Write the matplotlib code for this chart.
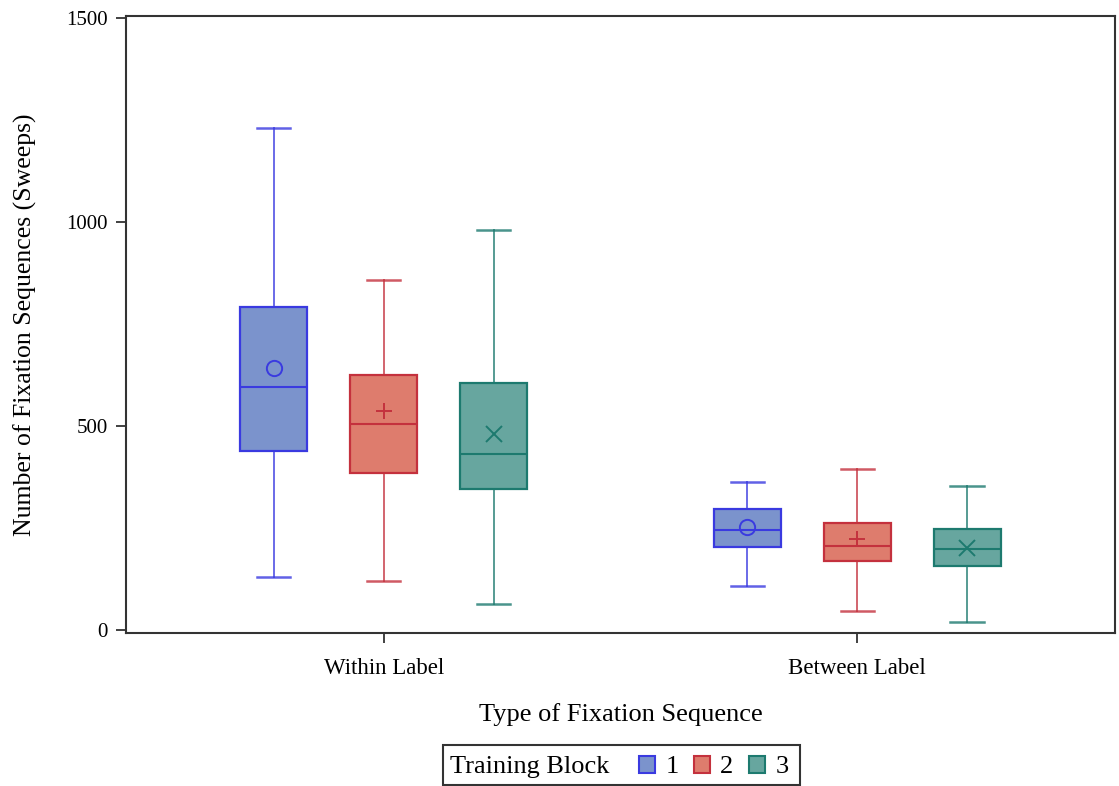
import matplotlib
matplotlib.use("Agg")
import matplotlib.pyplot as plt
from matplotlib.patches import Patch, Rectangle

plt.rcParams['font.family'] = ['Liberation Serif', 'DejaVu Serif']

groups = ["Within Label", "Between Label"]
blocks = ["1", "2", "3"]

# per block: one value per group (Within, Between)
whislo = {"1": [130, 108], "2": [120, 47], "3": [64, 20]}
q1 = {"1": [439, 203], "2": [385, 169], "3": [346, 157]}
med = {"1": [596, 245], "2": [505, 206], "3": [431, 198]}
q3 = {"1": [792, 297], "2": [625, 262], "3": [605, 248]}
whishi = {"1": [1230, 363], "2": [858, 395], "3": [980, 353]}
mean = {"1": [642, 252], "2": [537, 223], "3": [480, 201]}

fills = {"1": "#7b93cc", "2": "#de7c6d", "3": "#67a69f"}
edges = {"1": "#3a3ae0", "2": "#c4313d", "3": "#1d7a6f"}
markers = {"1": "o", "2": "+", "3": "x"}

fig = plt.figure(figsize=(11.19, 7.86), dpi=100)
ax = fig.add_axes([0.1126, 0.1947, 0.8838, 0.785])

offs = {"1": -0.232, "2": 0.0, "3": 0.232}
for b in blocks:
    stats = []
    for i in range(len(groups)):
        stats.append(dict(whislo=whislo[b][i], q1=q1[b][i], med=med[b][i],
                          q3=q3[b][i], whishi=whishi[b][i], mean=mean[b][i],
                          fliers=[]))
    pos = [i + offs[b] for i in range(len(groups))]
    ec = edges[b]
    ax.bxp(stats, positions=pos, widths=0.141, patch_artist=True,
           showmeans=True, manage_ticks=False,
           boxprops=dict(facecolor=fills[b], edgecolor=ec, linewidth=1.6),
           medianprops=dict(color=ec, linewidth=1.5),
           whiskerprops=dict(color=ec, linewidth=1.4, alpha=0.75),
           capprops=dict(color=ec, linewidth=1.8, alpha=0.8),
           meanprops=dict(marker=markers[b], markeredgecolor=ec,
                          markerfacecolor='none', markersize=11,
                          markeredgewidth=1.4))

ax.set_xlim(-0.544, 1.544)
ax.set_ylim(-8, 1505)
ax.set_xticks(range(len(groups)))
ax.set_xticklabels(groups)
ax.set_yticks([0, 500, 1000, 1500])
ax.tick_params(axis='both', colors='#333333', length=7,
               width=1.3, labelcolor='black', pad=6)
ax.tick_params(axis='y', labelsize=15)
ax.tick_params(axis='x', labelsize=16.5, pad=11)
for s in ax.spines.values():
    s.set_color('#333333')
    s.set_linewidth(1.5)

ax.set_xlabel("Type of Fixation Sequence", fontsize=19)
ax.xaxis.set_label_coords(0.5, -0.114)
ax.set_ylabel("Number of Fixation Sequences (Sweeps)", fontsize=18.5)
ax.yaxis.set_label_coords(-0.090, 0.5)

# legend: title inline on the left, then the three blocks
fig.text(450 / 1119, 0.024, "Training Block", fontsize=19,
         ha='left', va='center')
handles = [Patch(facecolor=fills[b], edgecolor=edges[b], linewidth=1.5)
           for b in blocks]
fig.legend(handles, blocks, loc='center left',
           bbox_to_anchor=(639 / 1119, 0.024), ncol=3, fontsize=19,
           frameon=False, handlelength=0.6, handleheight=0.6,
           handletextpad=0.4, columnspacing=0.58, borderpad=0.0,
           borderaxespad=0.0)
fig.add_artist(Rectangle((443 / 1119, 0.0015), 357 / 1119, 0.0505,
                         transform=fig.transFigure, fill=False,
                         edgecolor='#333333', linewidth=1.5))

fig.savefig("out.png", dpi=100)
